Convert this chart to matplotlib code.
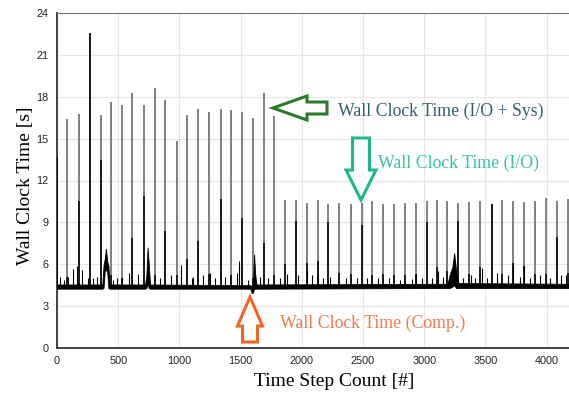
import numpy as np
import matplotlib
matplotlib.use('Agg')
import matplotlib.pyplot as plt
from matplotlib.patches import Polygon

# ---- data ----
# tall spikes: Wall Clock Time (I/O + Sys)
sys_steps = [0, 84, 177, 267, 357, 444, 529, 616, 708, 798, 885, 978, 1062, 1154,
             1242, 1337, 1424, 1509, 1601, 1691, 1775,
             1863, 1953, 2040, 2130, 2212, 2302, 2399, 2489, 2576, 2661, 2753, 2841,
             2931, 3020, 3107, 3189, 3279, 3369, 3456, 3551, 3638, 3723, 3815, 3905,
             3995, 4083, 4173]
sys_peak = [13.7, 16.4, 16.8, 22.6, 16.7, 17.65, 17.4, 18.3, 17.4, 18.6, 17.8, 14.8, 16.7, 17.1,
            16.9, 17.1, 17.05, 16.9, 16.5, 18.3, 16.6,
            10.6, 10.6, 10.4, 10.6, 10.35, 10.4, 10.35, 10.4, 10.5, 10.35, 10.35, 10.4,
            10.4, 10.5, 10.6, 10.5, 10.4, 10.45, 10.5, 10.35, 10.6, 10.5, 10.45, 10.5,
            10.75, 10.5, 10.65]
# dark part of the same spikes: Wall Clock Time (I/O)
io_peak = [13.7, 5.1, 10.5, 22.6, 13.5, 5.2, 5.0, 7.9, 10.9, 5.2, 8.35, 5.2, 6.4, 7.7,
           5.3, 10.7, 5.2, 9.3, 5.0, 7.5, 5.2,
           6.0, 9.07, 6.1, 6.2, 9.0, 5.4, 5.3, 8.8, 5.2, 5.3, 5.2, 5.2,
           5.3, 9.0, 5.8, 5.5, 9.07, 5.3, 5.8, 10.3, 5.3, 6.1, 5.9, 5.3,
           5.3, 7.95, 5.4]

# Wall Clock Time (Comp.): baseline band
comp_steps = [0, 370, 380, 390, 400, 410, 420, 430, 720, 730, 740, 750, 760,
              1580, 1590, 1600, 1610, 1620, 1630, 3190, 3210, 3230, 3245, 3260, 3280, 4183]
comp_lo = [4.25, 4.25, 4.3, 5.5, 5.6, 5.5, 4.3, 4.25, 4.25, 4.3, 4.6, 4.3, 4.25,
           4.25, 3.95, 3.95, 4.25, 4.25, 4.25, 4.3, 4.3, 4.4, 4.5, 4.3, 4.3, 4.3]
comp_hi = [4.55, 4.55, 5.9, 6.4, 7.1, 6.2, 5.9, 4.55, 4.55, 5.2, 7.2, 6.0, 4.55,
           4.5, 4.4, 4.5, 6.7, 5.2, 4.55, 4.6, 5.3, 5.8, 6.8, 5.6, 4.65, 4.6]
# small peaks of the computation time
comp_spike_steps = [25, 60, 93, 134, 161, 207, 250, 297, 324, 460, 488, 529, 591, 664, 842, 929,
                    1011, 1100, 1108, 1195, 1250, 1291, 1373, 1468, 1489, 1563, 1658, 1726,
                    1822, 1877, 1971, 2040, 2081, 2135, 2176, 2230, 2361, 2448, 2535, 2625,
                    2715, 2802, 2898, 2933, 2980, 3061, 3115, 3156, 3320, 3380, 3415, 3469,
                    3511, 3592, 3687, 3728, 3783, 3815, 3864, 3946, 4028, 4115, 4158]
comp_spike_peak = [5.1, 4.9, 5.1, 5.65, 5.85, 5.6, 5.0, 5.05, 5.1, 4.9, 5.0, 5.0, 5.35, 5.3, 5.0, 5.25,
                   5.95, 5.0, 5.1, 5.25, 5.35, 5.05, 5.1, 5.35, 6.2, 4.9, 5.1, 5.05,
                   5.0, 5.3, 5.25, 5.55, 5.2, 5.25, 5.0, 5.1, 5.0, 5.0, 5.05, 5.0,
                   5.05, 4.9, 4.95, 5.3, 5.0, 5.05, 5.55, 5.1, 5.0, 5.2, 5.0, 5.75,
                   5.0, 5.35, 5.2, 5.95, 5.1, 5.85, 5.05, 5.2, 5.0, 5.25, 5.2]

W, H = 569, 394
fig = plt.figure(figsize=(W / 100, H / 100), dpi=100)
ax = fig.add_axes([57 / W, (H - 348) / H, (W - 57) / W, (348 - 13) / H])

ax.vlines(sys_steps, 4.3, sys_peak, color='#5e5e5e', linewidth=1.1, zorder=2)
ax.vlines(sys_steps, 4.3, io_peak, color='black', linewidth=1.1, zorder=3)
ax.vlines(comp_spike_steps, 4.3, comp_spike_peak, color='black', linewidth=0.8, zorder=3)
ax.fill_between(comp_steps, comp_lo, comp_hi, color='black', linewidth=0.6, zorder=3)

ax.set_xlim(0, 4183)
ax.set_ylim(0, 24)
ax.set_xticks(np.arange(0, 4001, 500))
ax.set_yticks(np.arange(0, 25, 3))
ax.grid(True, color='#e6e6e6', linewidth=0.8, zorder=0)
ax.set_axisbelow(True)
ax.tick_params(length=0, labelsize=7.8, labelcolor='#222222', pad=6)
for lab in ax.get_xticklabels() + ax.get_yticklabels():
    lab.set_family('Liberation Sans')
ax.spines['right'].set_visible(False)
ax.spines['top'].set_color('#777777')
ax.spines['left'].set_color('#333333')
ax.spines['bottom'].set_color('#333333')
ax.spines['left'].set_linewidth(1.3)
ax.spines['bottom'].set_linewidth(1.3)

ax.set_xlabel('Time Step Count [#]', family='Liberation Serif', fontsize=14)
ax.set_ylabel('Wall Clock Time [s]', family='Liberation Serif', fontsize=14)
ax.xaxis.set_label_coords((334 - 57) / 512, (348 - 373) / 335)
ax.yaxis.set_label_coords((34 - 57) / 512, (348 - 186) / 335)


def hollow_arrow(tip, d, length, head_len, head_w, shaft_w, color):
    # outline in picture pixels, tip first
    local = [(0, 0), (-head_len, head_w / 2), (-head_len, shaft_w / 2), (-length, shaft_w / 2),
             (-length, -shaft_w / 2), (-head_len, -shaft_w / 2), (-head_len, -head_w / 2)]
    p = (-d[1], d[0])
    pts = [(tip[0] + u * d[0] + v * p[0], tip[1] + u * d[1] + v * p[1]) for u, v in local]
    pts = [(x / W, 1 - y / H) for x, y in pts]
    fig.add_artist(Polygon(pts, closed=True, facecolor='white', edgecolor=color,
                           linewidth=2.2, transform=fig.transFigure, zorder=5))


hollow_arrow((273, 108), (-1, 0), 54, 34, 24, 12, '#2a7a2a')
hollow_arrow((361, 200), (0, 1), 62, 30, 30, 17, '#1fb88c')
hollow_arrow((250, 297), (0, -1), 45, 29, 25, 15, '#f26522')

fig.text(338 / W, 1 - 111 / H, 'Wall Clock Time (I/O + Sys)', ha='left', va='center',
         family='Liberation Serif', fontsize=12.8, color='#35606a')
fig.text(378 / W, 1 - 163 / H, 'Wall Clock Time (I/O)', ha='left', va='center',
         family='Liberation Serif', fontsize=12.8, color='#3cc3a0')
fig.text(280 / W, 1 - 323 / H, 'Wall Clock Time (Comp.)', ha='left', va='center',
         family='Liberation Serif', fontsize=12.8, color='#f07a4a')

plt.savefig('out.png', dpi=100)
